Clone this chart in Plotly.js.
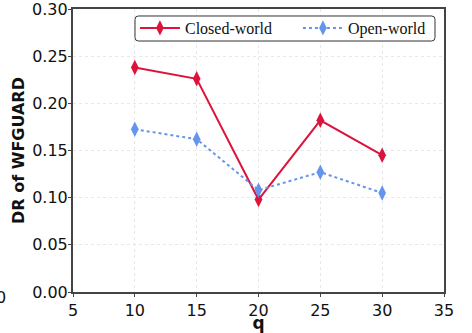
<!DOCTYPE html>
<html><head><meta charset="utf-8">
<script src="https://cdn.plot.ly/plotly-3.0.1.min.js"></script>
<style>html,body{margin:0;padding:0;background:#fff;overflow:hidden}#c{width:472px;height:333px}</style>
</head><body><div id="c"></div>
<script>
const qValues = [10, 15, 20, 25, 30];
const closedWorld = [0.238, 0.226, 0.098, 0.182, 0.145];
const openWorld = [0.1725, 0.162, 0.108, 0.127, 0.105];
const seriesNames = ['Closed-world', 'Open-world'];
const xTicks = [5, 10, 15, 20, 25, 30, 35];
const yTicks = [0, 0.05, 0.10, 0.15, 0.20, 0.25, 0.30];

const traces = [
  {x: qValues, y: closedWorld, name: seriesNames[0], mode: 'lines+markers', type: 'scatter',
   line: {color: '#DC143C', width: 2, dash: 'solid'},
   marker: {symbol: 'diamond-tall', size: 11, color: '#DC143C'}},
  {x: qValues, y: openWorld, name: seriesNames[1], mode: 'lines+markers', type: 'scatter',
   line: {color: '#6495ED', width: 2, dash: 'dot'},
   marker: {symbol: 'diamond-tall', size: 11, color: '#6495ED'}}
];
const axisCommon = {
  showline: true, linecolor: '#444', linewidth: 2, mirror: true,
  ticks: 'outside', ticklen: 3, tickcolor: '#444',
  showgrid: true, gridcolor: '#e8e8e8', griddash: 'dot', gridwidth: 1,
  zeroline: false, automargin: false,
  tickfont: {family: 'DejaVu Sans', size: 16, color: '#111'}
};
// legend frame (rounded box) in paper coordinates
const bx0 = 0.1671, bx1 = 0.9757, byT = 0.9753, byB = 0.8869, rx = 0.009, ry = 0.012;
const boxPath = `M ${bx0+rx},${byT} L ${bx1-rx},${byT} Q ${bx1},${byT} ${bx1},${byT-ry} L ${bx1},${byB+ry} Q ${bx1},${byB} ${bx1-rx},${byB} L ${bx0+rx},${byB} Q ${bx0},${byB} ${bx0},${byB+ry} L ${bx0},${byT-ry} Q ${bx0},${byT} ${bx0+rx},${byT} Z`;
const topTick = yTicks[yTicks.length - 1];
const layout = {
  width: 472, height: 333,
  margin: {l: 73, r: 28, t: 9, b: 41, autoexpand: false},
  paper_bgcolor: '#fff', plot_bgcolor: '#fff',
  showlegend: true,
  legend: {orientation: 'h', x: 0.167, xanchor: 'left', y: 0.993, yanchor: 'top',
    borderwidth: 0, bgcolor: 'rgba(0,0,0,0)',
    font: {family: 'Liberation Serif', size: 16, color: '#111'},
    itemwidth: 40, entrywidth: 108},
  xaxis: Object.assign({}, axisCommon, {range: [5, 35], tickvals: xTicks, ticktext: xTicks.map(String),
    title: {text: '<b>q</b>', font: {family: 'DejaVu Sans', size: 17, color: '#111'}, standoff: 4}}),
  yaxis: Object.assign({}, axisCommon, {range: [0, 0.3], tickvals: yTicks, ticktext: yTicks.map(v => v.toFixed(2)),
    ticklabelstandoff: -3,
    title: {text: '<b>DR of WFGUARD</b>', font: {family: 'DejaVu Sans', size: 16, color: '#111'}, standoff: 4}}),
  shapes: [{type: 'path', xref: 'paper', yref: 'paper', path: boxPath,
    line: {color: '#333', width: 1}, fillcolor: '#fff', layer: 'above'}],
  annotations: [
    {text: '0', xref: 'paper', yref: 'paper', x: -0.213, y: -0.02, xanchor: 'left', yanchor: 'middle',
     showarrow: false, font: {family: 'DejaVu Sans', size: 16, color: '#111'}},
    {text: topTick.toFixed(2), xref: 'paper', yref: 'y', x: 0, y: topTick, xanchor: 'right', yanchor: 'middle', xshift: -3,
     showarrow: false, font: {family: 'DejaVu Sans', size: 16, color: '#111'}}
  ]
};
Plotly.newPlot('c', traces, layout, {displayModeBar: false, staticPlot: true});
</script></body></html>
